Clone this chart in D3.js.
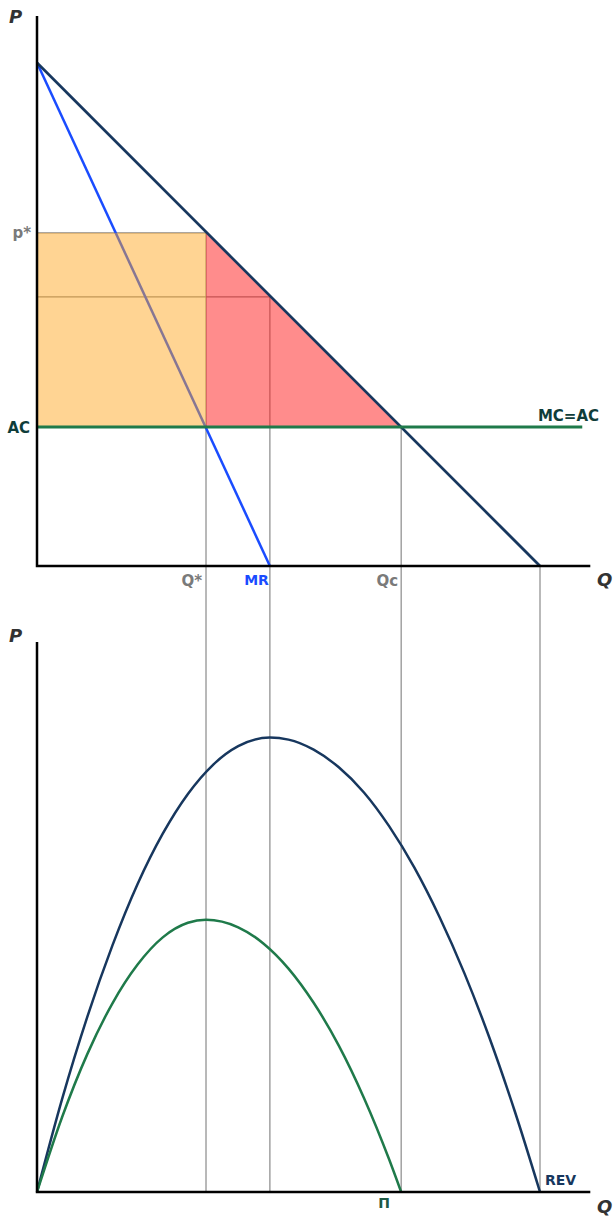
<!DOCTYPE html>
<html>
<head>
<meta charset="utf-8">
<script src="https://cdn.jsdelivr.net/npm/d3@7"></script>
<style>
  body { margin: 0; background: #fff; }
  text { font-family: "DejaVu Sans", Verdana, sans-serif; font-weight: bold; }
</style>
</head>
<body>
<script>
// top panel values (P, Q in same units)
const demand = [[0, 100], [100, 0]];
const marginalRevenue = [[0, 100], [46.3, 0]];
const avgCost = 27.6;
const pStar = 66.2;
const pAtMR = 53.5;
const qStar = 33.6;
const qMR = 46.3;
const qComp = 72.4;
const qMax = 100;

// bottom panel curves
const revenue = [
  [0, 0], [5, 18.5], [10, 34.8], [15, 49.0], [20, 61.2], [25, 71.2], [30, 79.1],
  [35, 84.9], [40, 88.6], [46.3, 90.3], [50, 89.9], [55, 87.9], [60, 84.4],
  [65, 79.4], [70, 72.7], [75, 64.5], [80, 54.7], [85, 43.4], [90, 30.5],
  [95, 16.0], [100, 0],
];
const profit = [
  [0, 0], [5, 14.9], [10, 27.4], [15, 37.5], [20, 45.2], [25, 50.6], [30, 53.5],
  [33.6, 54.1], [40, 52.6], [45, 49.4], [50, 44.4], [55, 37.6], [60, 29.1],
  [65, 18.7], [70, 6.5], [72.4, 0],
];

const width = 615;
const height = 1224;

const navy = "#17375e";
const blue = "#1a4cff";
const green = "#1f7a4a";
const guide = "#8a8a8a";

const svg = d3.select("body")
    .append("svg")
    .attr("width", width)
    .attr("height", height)
    .attr("viewBox", [0, 0, width, height].join(" "));

const x = d3.scaleLinear().domain([0, 110]).range([37, 590.3]);
const yTop = d3.scaleLinear().domain([0, 109.3]).range([566, 16]);
const yBot = d3.scaleLinear().domain([0, 109.3]).range([1192, 642]);

const line = (ys) => d3.line().x((d) => x(d[0])).y((d) => ys(d[1]));

// guide lines dropping to the lower panel
const drops = [[qStar, pStar], [qMR, pAtMR], [qComp, avgCost], [qMax, 0]];
svg.append("g")
    .selectAll("line")
    .data(drops)
    .join("line")
    .attr("x1", (d) => x(d[0]))
    .attr("x2", (d) => x(d[0]))
    .attr("y1", (d) => yTop(d[1]))
    .attr("y2", yBot(0))
    .attr("stroke", guide)
    .attr("stroke-width", 1.2);

svg.append("g")
    .selectAll("line")
    .data([[qStar, pStar], [qMR, pAtMR]])
    .join("line")
    .attr("x1", x(0))
    .attr("x2", (d) => x(d[0]))
    .attr("y1", (d) => yTop(d[1]))
    .attr("y2", (d) => yTop(d[1]))
    .attr("stroke", guide)
    .attr("stroke-width", 1.2);

// MR line sits under the shaded areas
svg.append("path")
    .attr("d", line(yTop)(marginalRevenue))
    .attr("fill", "none")
    .attr("stroke", blue)
    .attr("stroke-width", 2.5);

// monopoly profit rectangle
svg.append("rect")
    .attr("x", x(0))
    .attr("y", yTop(pStar))
    .attr("width", x(qStar) - x(0))
    .attr("height", yTop(avgCost) - yTop(pStar))
    .attr("fill", "#ffa51e")
    .attr("fill-opacity", 0.48);

// deadweight loss triangle
svg.append("path")
    .attr("d", line(yTop)([[qStar, pStar], [qComp, avgCost], [qStar, avgCost]]) + "Z")
    .attr("fill", "#ff1a1a")
    .attr("fill-opacity", 0.5);

svg.append("path")
    .attr("d", line(yTop)(demand))
    .attr("fill", "none")
    .attr("stroke", navy)
    .attr("stroke-width", 2.7);

svg.append("line")
    .attr("x1", x(0))
    .attr("x2", x(108.4))
    .attr("y1", yTop(avgCost))
    .attr("y2", yTop(avgCost))
    .attr("stroke", green)
    .attr("stroke-width", 3);

// bottom curves
svg.append("path")
    .attr("d", line(yBot).curve(d3.curveMonotoneX)(revenue))
    .attr("fill", "none")
    .attr("stroke", navy)
    .attr("stroke-width", 2.5);

svg.append("path")
    .attr("d", line(yBot).curve(d3.curveMonotoneX)(profit))
    .attr("fill", "none")
    .attr("stroke", green)
    .attr("stroke-width", 2.5);

// axes
const drawAxes = (ys) => {
  svg.append("path")
      .attr("d", `M${x(0)},${ys(109.3)}V${ys(0)}H${x(110)}`)
      .attr("fill", "none")
      .attr("stroke", "#000")
      .attr("stroke-width", 2.5);
};
drawAxes(yTop);
drawAxes(yBot);

const label = (txt, px, py, opts = {}) => {
  svg.append("text")
      .attr("x", px)
      .attr("y", py)
      .attr("text-anchor", opts.anchor || "start")
      .attr("dominant-baseline", "middle")
      .attr("font-size", opts.size || 13)
      .attr("font-style", opts.italic ? "italic" : null)
      .attr("font-family", opts.family || null)
      .attr("fill", opts.color || "#7a7a7a")
      .text(txt);
};

label("P", 9, 18, { size: 18, italic: true, color: "#333" });
label("P", 9, 637, { size: 18, italic: true, color: "#333" });
label("Q", 597, 581, { size: 18, italic: true, color: "#333" });
label("Q", 597, 1208, { size: 18, italic: true, color: "#333" });

label("p*", 31, yTop(pStar) + 1, { anchor: "end", size: 15 });
label("AC", 30, yTop(avgCost) + 1, { anchor: "end", size: 15, color: "#0f3d3a" });
label("MC=AC", 599, yTop(avgCost) - 11, { anchor: "end", size: 15, color: "#0f3d3a" });

label("Q*", x(qStar) - 4, 581, { anchor: "end", size: 15 });
label("MR", x(qMR) - 1, 581, { anchor: "end", size: 14, color: blue });
label("Qc", x(qComp) - 3, 581, { anchor: "end", size: 15 });

label("REV", 545, 1181, { size: 14, color: navy });
label("Π", x(qComp) - 23, 1204, { size: 14, color: "#1e5a44", family: "DejaVu Serif" });
</script>
</body>
</html>
